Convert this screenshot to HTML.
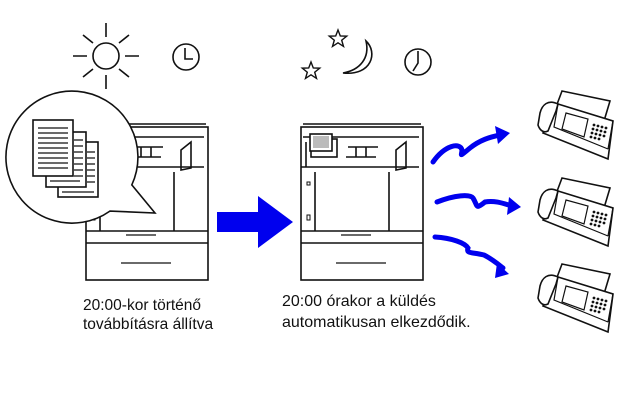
<!DOCTYPE html>
<html><head><meta charset="utf-8"><style>
body{margin:0;background:#fff;width:631px;height:409px;overflow:hidden}
svg{position:absolute;left:0;top:0}
text{font-family:"Liberation Sans",sans-serif;font-size:16px;fill:#111}
</style></head><body>
<svg width="631" height="409" viewBox="0 0 631 409" fill="none" stroke="#111" stroke-width="1.6">
<defs>
<g id="printer">
  <rect x="0" y="0" width="122" height="153" fill="#fff"/>
  <line x1="0" y1="104" x2="122" y2="104"/>
  <line x1="0" y1="116" x2="122" y2="116"/>
  <line x1="40" y1="108" x2="70" y2="108" stroke-width="1.2"/>
  <line x1="35" y1="136" x2="85" y2="136" stroke-width="1.2"/>
  <line x1="2" y1="-3" x2="120" y2="-3"/>
  <path d="M2 10 H118 M5 15 V40 H108 M118 40 H0 M14 45 V104 M88 45 V104"/>
  <rect x="10" y="12" width="26" height="18"/>
  <path d="M45 30 h30 M55 30 v-10 M65 30 v-10 M47 20 h30 M105 15 l-10 8 v20 l10 -2z"/>
  <rect x="6" y="55" width="3" height="3" stroke-width="1"/>
  <rect x="6" y="88" width="3" height="5" stroke-width="1"/>
</g>
<g id="fax">
  <path d="M18 16 L24 0 L72 10 L66 30" fill="#fff"/>
  <path d="M20 13 L75 30 L70 68 L5 42 Z" fill="#fff"/>
  <path d="M20 13 C10 8 4 14 2 22 L0 34 C2 40 6 42 10 40 L14 30 L18 20Z" fill="#fff"/>
  <path d="M20 13 L16 36 L70 58 M75 30 L70 58" stroke-width="1.2"/>
  <path d="M28 22 L50 28 L46 46 L24 38 Z" stroke-width="1.2"/>
  <g fill="#111" stroke="none">
   <circle cx="56" cy="34" r="1.4"/><circle cx="60" cy="35" r="1.4"/><circle cx="64" cy="36" r="1.4"/><circle cx="68" cy="37" r="1.4"/>
   <circle cx="55" cy="38" r="1.4"/><circle cx="59" cy="39" r="1.4"/><circle cx="63" cy="40" r="1.4"/><circle cx="67" cy="41" r="1.4"/>
   <circle cx="54" cy="42" r="1.4"/><circle cx="58" cy="43" r="1.4"/><circle cx="62" cy="44" r="1.4"/><circle cx="66" cy="45" r="1.4"/>
   <circle cx="53" cy="46" r="1.4"/><circle cx="57" cy="47" r="1.4"/><circle cx="61" cy="48" r="1.4"/>
  </g>
</g>
</defs>
<!-- sun -->
<circle cx="106" cy="56" r="13"/>
<path d="M106 23 V37 M106 75 V89 M73 56 H87 M125 56 H139 M83 35 L93 43 M119 69 L129 77 M83 77 L93 69 M119 43 L129 35"/>
<!-- clock left -->
<circle cx="186" cy="57" r="13"/>
<path d="M185 48 V59 H193"/>
<!-- left printer -->
<use href="#printer" x="86" y="127"/>
<!-- bubble -->
<path d="M131.8 184.9 A66 66 0 1 0 109.9 211.1 L155 213 Z" fill="#fff"/>
<g fill="#fff">
<rect x="58" y="142" width="40" height="55"/>
<rect x="46" y="132" width="40" height="55"/>
<rect x="33" y="120" width="40" height="56"/>
</g>
<path d="M38 128h30M38 133h30M38 138h30M38 143h30M38 148h30M38 153h30M38 158h30M38 163h30M38 168h30M74 140h9M74 146h9M74 152h9M74 158h9M74 164h9M74 170h9M74 176h9M50 181h30M87 152h8M87 158h8M87 164h8M87 170h8M87 176h8M87 182h8M62 192h32" stroke-width="1.2"/>
<!-- big arrow -->
<path d="M217 212 H258 V196 L293 222 L258 248 V232 H217 Z" fill="#0000ee" stroke="none"/>
<!-- night -->
<path d="M338 30 l2.3 6 6.4 .2 -5 4 1.8 6.2 -5.5 -3.6 -5.5 3.6 1.8 -6.2 -5 -4 6.4 -.2z" stroke-width="1.4"/>
<path d="M311 62 l2.3 6 6.4 .2 -5 4 1.8 6.2 -5.5 -3.6 -5.5 3.6 1.8 -6.2 -5 -4 6.4 -.2z" stroke-width="1.4"/>
<path d="M366 41 C378 52 372 76 343 73 C360 70 370 58 366 41 Z"/>
<circle cx="418" cy="62" r="13"/>
<path d="M418 51 V63 L413 71"/>
<!-- right printer -->
<use href="#printer" x="301" y="127"/>
<rect x="310" y="134" width="22" height="17" fill="#fff"/>
<rect x="313" y="136" width="16" height="12" fill="#bbb" stroke="none"/>
<!-- blue squiggles -->
<g stroke="#0000ee" stroke-width="5" stroke-linecap="round" fill="none">
<path d="M433 162 C445 145 460 142 462 150 C462 155 458 158 470 148 C480 140 490 137 500 135"/>
<path d="M437 202 C455 195 470 194 473 198 C478 206 475 210 485 202 C495 200 505 204 512 206"/>
<path d="M435 237 C452 238 465 243 468 248 C466 254 472 252 484 255 C492 259 498 264 503 268"/>
</g>
<g fill="#0000ee" stroke="none">
<path d="M495 126 L510 133 L498 144 Z"/>
<path d="M509 197 L521 207 L507 215 Z"/>
<path d="M497 263 L509 274 L495 278 Z"/>
</g>
<!-- faxes -->
<use href="#fax" x="538" y="91"/>
<use href="#fax" x="538" y="178"/>
<use href="#fax" x="538" y="264"/>
<g stroke="none">
<text x="83" y="310" style="font-size:15.5px">20:00-kor történő</text>
<text x="83" y="329" style="font-size:15.5px">továbbításra állítva</text>
<text x="282" y="306">20:00 órakor a küldés</text>
<text x="282" y="327">automatikusan elkezdődik.</text>
</g>
</svg>
</body></html>
